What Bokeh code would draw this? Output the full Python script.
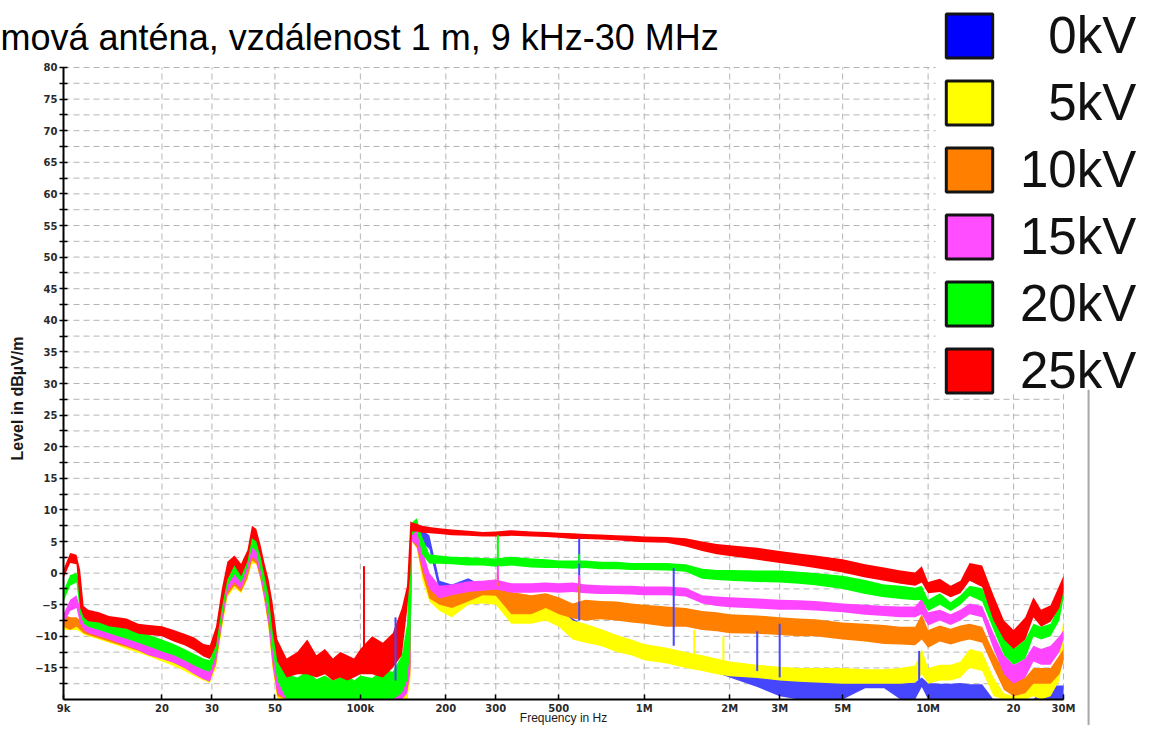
import math
from bokeh.plotting import figure
from bokeh.models import Range1d, FixedTicker, Legend, LegendItem, Label, BoxAnnotation
from bokeh.embed import file_html
from bokeh.resources import INLINE

# ---------------- data ----------------
FREQ_KHZ = [9, 9.5, 10, 10.3, 10.6, 11, 12, 13, 14, 15,
            16.5, 18, 20, 22, 24, 26, 28, 29.5, 31, 32.5,
            34, 36, 38, 40, 41.5, 43, 44.5, 46, 47.5, 49,
            51, 55, 60, 65, 70, 75, 80, 85, 90, 95,
            100, 110, 120, 130, 140, 146, 150, 152, 158, 165,
            175, 190, 210, 240, 270, 300, 340, 400, 450, 500,
            560, 620, 700, 800, 900, 1000, 1200, 1400, 1600, 1800,
            2000, 2500, 3000, 3500, 4000, 5000, 6000, 7000, 8000, 9000,
            9500, 10000, 11000, 12000, 13000, 14000, 15500, 17000, 18500, 20000,
            22000, 23500, 25000, 27000, 29000, 30000]

# 25 kV (red): lower / upper edge of the noisy trace, dBuV/m (-20 = bottom of the plot)
KV25_LO = [-0.8, 1.6, 1.4, -5.5, -7.0, -7.6, -7.8, -8.4, -8.6, -8.8,
           -9.6, -9.8, -10.0, -10.8, -11.4, -12.2, -13.2, -13.6, -11.5, -5.5,
           -1.0, 1.2, -0.5, 1.8, 5.5, 5.0, 2.5, -0.5, -3.5, -9.0,
           -14.0, -16.5, -16.0, -16.0, -16.5, -16.0, -17.0, -16.5, -17.0, -16.5,
           -16.0, -16.0, -16.5, -15.0, -13.0, -6.0, 0.0, 6.6, 6.6, 6.4,
           6.3, 6.2, 6.0, 5.9, 5.8, 5.8, 5.9, 5.8, 5.7, 5.6,
           5.4, 5.4, 5.3, 5.2, 5.0, 4.9, 4.8, 4.2, 3.5, 3.0,
           2.7, 2.1, 1.6, 1.2, 0.8, 0.1, -0.7, -1.2, -1.7, -2.0,
           -1.5, -3.2, -3.0, -3.8, -3.2, -1.2, -2.2, -7.5, -10.5, -12.0,
           -10.5, -7.0, -8.5, -7.7, -5.5, -2.9]
KV25_HI = [0.6, 3.2, 2.9, 0.5, -5.2, -5.8, -6.2, -6.8, -7.0, -7.2,
           -8.0, -8.2, -8.4, -9.0, -9.6, -10.2, -11.2, -11.4, -8.5, -2.5,
           1.8, 2.8, 1.5, 3.6, 7.5, 7.0, 4.5, 1.5, -1.0, -4.5,
           -10.5, -13.5, -12.5, -10.5, -13.0, -12.0, -13.5, -12.5, -13.0, -13.5,
           -12.0, -10.0, -11.0, -9.5, -5.5, -2.0, 8.2, 8.0, 7.8, 7.5,
           7.3, 7.1, 6.9, 6.7, 6.5, 6.6, 6.8, 6.6, 6.5, 6.4,
           6.3, 6.2, 6.1, 6.0, 5.9, 5.8, 5.7, 5.5, 5.0, 4.6,
           4.4, 4.0, 3.5, 3.1, 2.8, 2.2, 1.4, 0.9, 0.4, 0.1,
           1.1, -1.4, -0.9, -2.0, -1.2, 1.6, 1.2, -3.5, -7.5, -9.0,
           -7.0, -3.8, -5.8, -5.1, -1.9, -0.4]

# 20 kV (green)
KV20_LO = [-4.5, -2.0, -1.5, -6.5, -8.0, -8.5, -9.0, -9.5, -10.0, -10.4,
           -11.0, -11.6, -12.4, -13.0, -13.8, -14.6, -15.3, -15.6, -13.0, -7.0,
           -2.0, -0.2, -1.5, 1.0, 4.0, 3.5, 0.5, -3.0, -6.5, -12.0,
           -17.0, -20.0, -20.0, -20.0, -20.0, -20.0, -20.0, -20.0, -20.0, -20.0,
           -20.0, -20.0, -20.0, -20.0, -19.0, -17.0, -12.0, 6.0, 6.8, 3.0,
           1.5, 1.5, 1.4, 1.2, 1.2, 1.0, 1.2, 0.9, 0.8, 0.8,
           0.7, 0.8, 0.6, 0.6, 0.5, 0.5, 0.4, 0.2, -0.9, -1.1,
           -1.2, -1.4, -1.5, -1.7, -1.9, -2.5, -3.3, -3.8, -4.1, -4.3,
           -4.2, -6.0, -5.0, -6.0, -5.0, -3.6, -4.5, -9.0, -13.0, -14.5,
           -13.5, -10.0, -10.5, -10.0, -7.5, -4.0]
KV20_HI = [-2.8, -0.3, 0.0, -1.5, -6.3, -7.0, -7.5, -8.0, -8.3, -8.8,
           -9.3, -9.8, -10.5, -11.2, -12.0, -12.8, -13.5, -13.8, -10.5, -3.5,
           0.2, 1.5, 0.5, 2.6, 6.0, 5.5, 2.5, 0.0, -3.0, -7.0,
           -13.0, -16.0, -16.5, -15.5, -16.8, -16.2, -17.0, -16.5, -16.0, -17.0,
           -16.2, -16.6, -15.2, -15.6, -13.0, -8.0, 7.0, 8.0, 8.7, 5.8,
           3.0, 2.8, 2.6, 2.5, 2.4, 2.3, 2.6, 2.3, 2.2, 2.0,
           2.0, 2.0, 1.8, 1.8, 1.6, 1.6, 1.6, 1.4, 0.7, 0.5,
           0.5, 0.4, 0.4, 0.2, 0.0, -0.4, -1.1, -1.8, -2.0, -2.3,
           -2.0, -4.2, -3.2, -4.6, -3.5, -2.0, -2.4, -6.5, -10.0, -12.0,
           -10.5, -8.0, -8.5, -8.0, -5.0, -2.5]

# 15 kV (pink)
KV15_LO = [-8.0, -6.0, -5.5, -8.0, -9.0, -9.5, -10.0, -10.5, -11.0, -11.5,
           -12.2, -13.0, -13.6, -14.2, -15.0, -16.0, -16.8, -17.2, -14.0, -8.0,
           -3.0, -1.5, -2.5, 0.0, 2.5, 2.0, -0.5, -4.0, -8.0, -14.0,
           -19.0, -20.0, -20.0, -20.0, -20.0, -20.0, -20.0, -20.0, -20.0, -20.0,
           -20.0, -20.0, -20.0, -20.0, -20.0, -19.0, -15.0, 5.0, 4.5, 1.0,
           -2.5, -4.0, -3.5, -3.0, -2.8, -2.6, -3.1, -3.1, -3.0, -3.1,
           -3.0, -3.2, -3.3, -3.3, -3.4, -3.5, -3.5, -3.7, -4.8, -5.2,
           -5.4, -5.6, -5.8, -5.8, -5.9, -6.2, -6.6, -6.8, -7.0, -7.0,
           -6.5, -8.3, -7.5, -8.2, -7.5, -6.5, -7.0, -12.0, -16.0, -17.5,
           -16.5, -14.0, -14.5, -14.5, -12.5, -10.5]
KV15_HI = [-6.5, -4.2, -3.5, -5.5, -7.5, -8.0, -8.5, -9.0, -9.5, -10.0,
           -10.6, -11.2, -12.0, -12.6, -13.4, -14.4, -15.2, -15.5, -11.5, -4.5,
           -0.8, 0.2, -0.8, 1.8, 4.4, 4.0, 1.5, -1.0, -4.0, -9.0,
           -15.0, -19.0, -19.5, -19.5, -19.5, -19.5, -19.5, -19.5, -19.5, -19.5,
           -19.5, -19.5, -19.5, -19.5, -18.0, -15.0, 6.0, 7.5, 7.0, 4.0,
           0.0, -2.0, -1.8, -1.3, -1.2, -1.0, -1.6, -1.6, -1.5, -1.6,
           -1.5, -1.8, -1.9, -2.0, -2.0, -2.1, -2.1, -2.3, -3.5, -3.7,
           -3.8, -4.0, -4.2, -4.3, -4.4, -4.8, -5.0, -5.2, -5.3, -5.3,
           -4.0, -6.2, -5.8, -6.5, -5.8, -4.8, -5.2, -9.5, -13.0, -14.5,
           -13.5, -11.5, -12.0, -11.5, -10.0, -9.0]

# 10 kV (orange)
KV10_LO = [-8.5, -9.0, -8.5, -9.0, -9.5, -9.8, -10.3, -10.8, -11.3, -11.7,
           -12.3, -13.0, -13.5, -14.2, -15.0, -15.8, -16.6, -17.0, -14.5, -8.5,
           -3.5, -2.0, -3.0, -0.8, 2.0, 1.5, -1.0, -4.5, -8.5, -14.5,
           -19.5, -20.0, -20.0, -20.0, -20.0, -20.0, -20.0, -20.0, -20.0, -20.0,
           -20.0, -20.0, -20.0, -20.0, -20.0, -19.0, -16.0, 5.0, 4.0, 0.0,
           -4.0, -5.0, -5.5, -4.5, -3.5, -3.6, -6.5, -6.5, -5.5, -6.5,
           -7.2, -7.5, -7.3, -7.5, -7.8, -8.0, -8.5, -8.5, -9.0, -9.2,
           -9.5, -9.6, -9.8, -10.0, -10.0, -10.5, -10.8, -11.2, -11.3, -11.4,
           -10.5, -11.8, -10.8, -11.3, -10.8, -10.5, -11.0, -15.0, -18.5, -19.5,
           -19.0, -17.5, -17.5, -17.5, -16.0, -14.0]
KV10_HI = [-6.5, -7.0, -7.0, -7.5, -8.0, -8.3, -8.8, -9.3, -9.8, -10.2,
           -10.8, -11.5, -12.0, -12.6, -13.5, -14.3, -15.0, -15.5, -12.0, -5.0,
           -1.2, -0.2, -1.0, 1.2, 4.0, 3.6, 1.2, -1.5, -4.5, -9.5,
           -15.5, -19.5, -19.5, -19.5, -19.5, -19.5, -19.5, -19.5, -19.5, -19.5,
           -19.5, -19.5, -19.5, -19.5, -18.0, -16.0, 6.0, 7.5, 6.5, 3.0,
           -1.0, -2.5, -3.0, -2.2, -1.3, -1.0, -3.0, -3.5, -3.2, -3.8,
           -4.8, -4.2, -4.4, -4.5, -4.8, -5.0, -5.3, -5.5, -6.0, -6.2,
           -6.5, -6.7, -7.0, -7.2, -7.3, -7.8, -8.0, -8.2, -8.5, -8.5,
           -6.5, -9.0, -8.3, -8.8, -8.3, -8.0, -8.5, -12.5, -15.5, -17.0,
           -16.5, -15.0, -15.0, -15.0, -13.0, -12.0]

# 5 kV (yellow)
KV5_LO = [-9.0, -9.0, -9.0, -9.3, -9.7, -10.0, -10.5, -11.0, -11.5, -12.0,
          -12.6, -13.2, -14.0, -14.7, -15.5, -16.3, -17.0, -17.4, -15.0, -9.0,
          -3.8, -2.3, -3.2, -1.0, 1.5, 1.5, -1.0, -4.5, -9.0, -15.0,
          -20.0, -20.0, -20.0, -20.0, -20.0, -20.0, -20.0, -20.0, -20.0, -20.0,
          -20.0, -20.0, -20.0, -20.0, -20.0, -20.0, -17.0, 5.0, 4.0, -1.0,
          -4.5, -6.0, -7.0, -5.0, -4.8, -5.0, -8.0, -8.0, -7.5, -8.5,
          -10.5, -11.0, -11.5, -12.5, -13.0, -13.8, -14.3, -15.0, -15.5, -16.0,
          -16.3, -16.6, -17.0, -17.2, -17.3, -17.5, -17.5, -17.5, -17.5, -17.3,
          -16.0, -17.5, -17.0, -17.0, -16.5, -15.0, -15.5, -19.5, -20.0, -20.0,
          -20.0, -19.5, -20.0, -19.5, -17.0, -13.0]
KV5_HI = [-7.0, -7.5, -7.5, -7.8, -8.2, -8.5, -9.0, -9.5, -10.0, -10.5,
          -11.0, -11.7, -12.3, -13.0, -14.0, -14.8, -15.5, -15.8, -12.5, -5.5,
          -1.5, -0.5, -1.3, 1.0, 3.6, 3.4, 1.0, -1.5, -5.0, -10.0,
          -16.0, -19.8, -19.8, -19.8, -19.8, -19.8, -19.8, -19.8, -19.8, -19.8,
          -19.8, -19.8, -19.8, -19.8, -18.5, -17.0, 6.0, 7.5, 6.5, 2.0,
          -2.0, -3.5, -4.5, -2.8, -2.5, -2.2, -4.8, -5.0, -4.5, -5.5,
          -7.5, -8.0, -8.8, -9.8, -10.5, -11.2, -11.8, -12.5, -13.0, -13.5,
          -14.0, -14.5, -14.8, -15.0, -15.0, -15.0, -15.2, -15.2, -15.0, -14.6,
          -12.0, -15.0, -14.5, -14.5, -14.0, -12.0, -12.5, -16.5, -19.0, -19.5,
          -19.0, -17.0, -17.5, -17.0, -13.0, -7.0]

# 0 kV (blue)
KV0_LO = [-7.6, -8.4, -8.3, -8.8, -9.2, -9.5, -10.0, -10.5, -11.0, -11.4,
          -12.0, -12.6, -13.2, -13.8, -14.6, -15.4, -16.2, -16.6, -13.5, -7.5,
          -2.8, -1.2, -2.2, 0.2, 3.0, 2.8, 0.2, -3.2, -7.5, -13.5,
          -19.0, -20.0, -20.0, -20.0, -20.0, -20.0, -20.0, -20.0, -20.0, -20.0,
          -20.0, -20.0, -20.0, -20.0, -20.0, -20.0, -15.0, 5.5, 5.2, 4.8,
          3.8, -3.0, -3.5, -2.5, -3.6, -3.3, -5.5, -6.2, -5.5, -7.2,
          -8.8, -10.0, -11.0, -11.8, -12.5, -13.0, -13.8, -14.5, -15.2, -15.8,
          -16.5, -18.0, -19.5, -20.0, -20.0, -20.0, -18.2, -18.2, -20.0, -20.0,
          -18.0, -20.0, -20.0, -20.0, -20.0, -20.0, -20.0, -20.0, -20.0, -20.0,
          -20.0, -20.0, -20.0, -20.0, -20.0, -20.0]
KV0_HI = [-6.6, -7.4, -7.3, -7.8, -8.2, -8.5, -9.0, -9.5, -10.0, -10.4,
          -11.0, -11.6, -12.2, -12.8, -13.6, -14.4, -15.2, -15.6, -12.0, -4.5,
          -1.2, 0.0, -1.0, 1.6, 4.5, 4.2, 2.0, -0.8, -4.2, -9.5,
          -15.5, -20.0, -20.0, -20.0, -20.0, -20.0, -20.0, -20.0, -20.0, -20.0,
          -20.0, -20.0, -20.0, -20.0, -20.0, -16.0, 6.5, 7.5, 7.2, 6.8,
          6.0, -1.2, -1.8, -0.8, -2.0, -1.6, -3.5, -4.4, -3.8, -5.2,
          -7.2, -8.4, -9.6, -10.4, -11.2, -11.8, -12.8, -13.5, -14.2, -14.8,
          -15.2, -16.2, -16.8, -17.0, -17.1, -17.2, -17.0, -17.0, -17.3, -17.3,
          -16.5, -17.4, -17.5, -17.5, -17.4, -17.6, -17.6, -20.0, -20.0, -20.0,
          -20.0, -20.0, -18.5, -17.8, -17.8, -17.8]

# narrow spikes: frequency (kHz), foot level, top level
KV0_SPIKE_KHZ = [133, 590, 1270, 2500, 3000, 9300]
KV0_SPIKE_LO = [-17.0, -7.5, -11.5, -15.5, -16.5, -17.0]
KV0_SPIKE_HI = [-7.0, 5.5, 0.8, -9.2, -8.0, -12.3]
KV5_SPIKE_KHZ = [1500, 1900]
KV5_SPIKE_LO = [-13.0, -14.5]
KV5_SPIKE_HI = [-9.0, -10.0]
KV10_SPIKE_KHZ = [305, 590]
KV10_SPIKE_LO = [-2.0, -4.5]
KV10_SPIKE_HI = [-0.2, -0.8]
KV15_SPIKE_KHZ = [305, 590]
KV15_SPIKE_LO = [-1.5, -2.0]
KV15_SPIKE_HI = [1.2, -0.3]
KV20_SPIKE_KHZ = [305, 590]
KV20_SPIKE_LO = [2.0, 1.5]
KV20_SPIKE_HI = [6.0, 3.0]
KV25_SPIKE_KHZ = [103]
KV25_SPIKE_LO = [-13.0]
KV25_SPIKE_HI = [1.1]

LEGEND_LABELS = ["0kV", "5kV", "10kV", "15kV", "20kV", "25kV"]

XTICKS_HZ = [9000, 20000, 30000, 50000, 100000, 200000, 300000, 500000,
             1000000, 2000000, 3000000, 5000000, 10000000, 20000000, 30000000]
XTICK_LABELS = ["9k", "20", "30", "50", "100k", "200", "300", "500",
                "1M", "2M", "3M", "5M", "10M", "20", "30M"]
YTICKS = [-15, -10, -5, 0, 5, 10, 15, 20, 25, 30, 35, 40, 45, 50, 55, 60, 65, 70, 75, 80]
YMINOR = [-17.5, -12.5, -7.5, -2.5, 2.5, 7.5, 12.5, 17.5, 22.5, 27.5, 32.5, 37.5,
          42.5, 47.5, 52.5, 57.5, 62.5, 67.5, 72.5, 77.5]

TITLE = "mová anténa, vzdálenost 1 m, 9 kHz-30 MHz"
X_TITLE = "Frequency in Hz"
Y_TITLE = "Level in dBµV/m"

# ---------------- styling / layout ----------------
TRACE_COLORS = {"0kV": "#4646ff", "5kV": "#ffff00", "10kV": "#ff8000",
                "15kV": "#ff44ff", "20kV": "#00ff00", "25kV": "#ff0000"}
LEGEND_COLORS = {"0kV": "#0000ff", "5kV": "#ffff00", "10kV": "#ff8000",
                 "15kV": "#ff4dff", "20kV": "#00ff00", "25kV": "#ff0000"}
TICK_FONT = "DejaVu Sans"
MAIN_FONT = "Liberation Sans"
GRID_COLOR = "#b4b4b4"
W, H = 1140, 725
# the frame fills the whole canvas; the axes are pinned at 9 kHz and -20 dB
X_RANGE = (5398.5, 56.0e6)
Y_RANGE = (-24.11, 90.60)
BOX_LEFT, BOX_BOTTOM = 10.62e6, 28.3      # white legend box hiding the grid
FRAME_LINE = (36.45e6, 37.05e6, 29)       # thin grey line at the right

freq_hz = [f * 1000 for f in FREQ_KHZ]

series = {
    "0kV": (KV0_LO, KV0_HI, KV0_SPIKE_KHZ, KV0_SPIKE_LO, KV0_SPIKE_HI),
    "5kV": (KV5_LO, KV5_HI, KV5_SPIKE_KHZ, KV5_SPIKE_LO, KV5_SPIKE_HI),
    "10kV": (KV10_LO, KV10_HI, KV10_SPIKE_KHZ, KV10_SPIKE_LO, KV10_SPIKE_HI),
    "15kV": (KV15_LO, KV15_HI, KV15_SPIKE_KHZ, KV15_SPIKE_LO, KV15_SPIKE_HI),
    "20kV": (KV20_LO, KV20_HI, KV20_SPIKE_KHZ, KV20_SPIKE_LO, KV20_SPIKE_HI),
    "25kV": (KV25_LO, KV25_HI, KV25_SPIKE_KHZ, KV25_SPIKE_LO, KV25_SPIKE_HI),
}
DRAW_ORDER = ["0kV", "5kV", "10kV", "15kV", "20kV", "25kV"]

p = figure(width=W, height=H, x_axis_type="log",
           x_range=Range1d(*X_RANGE), y_range=Range1d(*Y_RANGE),
           output_backend="svg", toolbar_location=None, title=None,
           min_border_left=0, min_border_right=0, min_border_top=0, min_border_bottom=0)
p.outline_line_color = None
p.background_fill_color = "white"
p.border_fill_color = "white"
p.xgrid.visible = False
p.ygrid.visible = False

# dashed grid limited to the 9 kHz - 30 MHz / -20..80 dB area
grid_levels = YMINOR + YTICKS
p.segment(x0=[XTICKS_HZ[0]] * len(grid_levels), y0=grid_levels,
          x1=[XTICKS_HZ[-1]] * len(grid_levels), y1=grid_levels,
          line_color=GRID_COLOR, line_width=1, line_dash="6 4", level="underlay")
p.segment(x0=XTICKS_HZ[1:], y0=[-20] * (len(XTICKS_HZ) - 1),
          x1=XTICKS_HZ[1:], y1=[YTICKS[-1]] * (len(XTICKS_HZ) - 1),
          line_color=GRID_COLOR, line_width=1, line_dash="6 4", level="underlay")

for name in DRAW_ORDER:
    lo, hi = series[name][0], series[name][1]
    p.varea(x=freq_hz, y1=lo, y2=hi, fill_color=TRACE_COLORS[name], fill_alpha=1.0)
for name in DRAW_ORDER:
    _, _, sf, slo, shi = series[name]
    sx = [f * 1000 for f in sf]
    p.segment(x0=sx, y0=slo, x1=sx, y1=shi, line_color=TRACE_COLORS[name], line_width=2)

# axes pinned inside the canvas
p.xaxis.fixed_location = -20
p.xaxis.ticker = FixedTicker(ticks=XTICKS_HZ, minor_ticks=[])
p.xaxis.major_label_overrides = {t: l for t, l in zip(XTICKS_HZ, XTICK_LABELS)}
p.xaxis.bounds = (XTICKS_HZ[0], XTICKS_HZ[-1])
p.xaxis.major_tick_in = 5
p.xaxis.major_tick_out = 0
p.xaxis.major_label_standoff = 3

p.yaxis.fixed_location = 9000
p.yaxis.ticker = FixedTicker(ticks=YTICKS, minor_ticks=YMINOR)
p.yaxis.bounds = (-20, 80)
p.yaxis.major_tick_in = 4
p.yaxis.major_tick_out = 4
p.yaxis.minor_tick_in = 4
p.yaxis.minor_tick_out = 4
p.yaxis.major_label_standoff = 2

for ax in (p.xaxis[0], p.yaxis[0]):
    ax.axis_line_width = 2
    ax.axis_line_color = "black"
    ax.major_tick_line_width = 1.5
    ax.major_tick_line_color = "black"
    ax.minor_tick_line_width = 1.5
    ax.minor_tick_line_color = "black"
    ax.major_label_text_font = TICK_FONT
    ax.major_label_text_font_style = "bold"
    ax.major_label_text_font_size = "10px"
    ax.major_label_text_color = "#2a2a2a"

# axis titles (placed as labels so that they stay inside the canvas)
p.add_layout(Label(x=math.sqrt(XTICKS_HZ[0] * XTICKS_HZ[-1]), y=-20, y_offset=-18,
                   text=X_TITLE, text_font=MAIN_FONT, text_font_size="12px",
                   text_color="#1a1a1a", text_align="center", text_baseline="middle"))
p.add_layout(Label(x=XTICKS_HZ[0], y=-20, x_offset=-46, y_offset=301, angle=math.pi / 2,
                   text=Y_TITLE, text_font=MAIN_FONT, text_font_size="16px",
                   text_font_style="bold", text_color="#1a1a1a",
                   text_align="center", text_baseline="middle"))

# title fragment at the top left
p.add_layout(Label(x=XTICKS_HZ[0], y=YTICKS[-1], x_offset=-63, y_offset=30, text=TITLE,
                   text_font=MAIN_FONT, text_font_size="36px", text_color="black",
                   text_baseline="middle", text_align="left"))

# white box behind the legend, thin grey line
p.add_layout(BoxAnnotation(left=BOX_LEFT, bottom=BOX_BOTTOM, fill_color="white",
                           fill_alpha=1.0, line_color=None))
p.add_layout(BoxAnnotation(left=FRAME_LINE[0], right=FRAME_LINE[1], top=FRAME_LINE[2],
                           fill_color="#a8a8a8", fill_alpha=1.0, line_color=None))


def legend_label(name):
    # figure space keeps the single-digit labels right-aligned
    return name if len(name) == 4 else "\u2007" + name


items = []
for name in LEGEND_LABELS:
    lo, hi = series[name][0], series[name][1]
    sw = p.quad(left=freq_hz[:-1], right=freq_hz[1:], bottom=lo[:-1], top=hi[:-1],
                fill_color=LEGEND_COLORS[name], line_color="#141414", line_width=3,
                visible=False)
    items.append(LegendItem(label=legend_label(name), renderers=[sw]))

legend = Legend(items=items, location=(940, 324), orientation="vertical",
                glyph_width=58, glyph_height=55, label_standoff=22, label_height=62,
                label_text_font=MAIN_FONT, label_text_font_size="51px",
                label_text_color="#111111",
                spacing=5, padding=0, margin=0, border_line_color=None,
                background_fill_alpha=0.0, click_policy="none")
p.add_layout(legend)

open("out.html", "w").write(file_html(p, INLINE))
